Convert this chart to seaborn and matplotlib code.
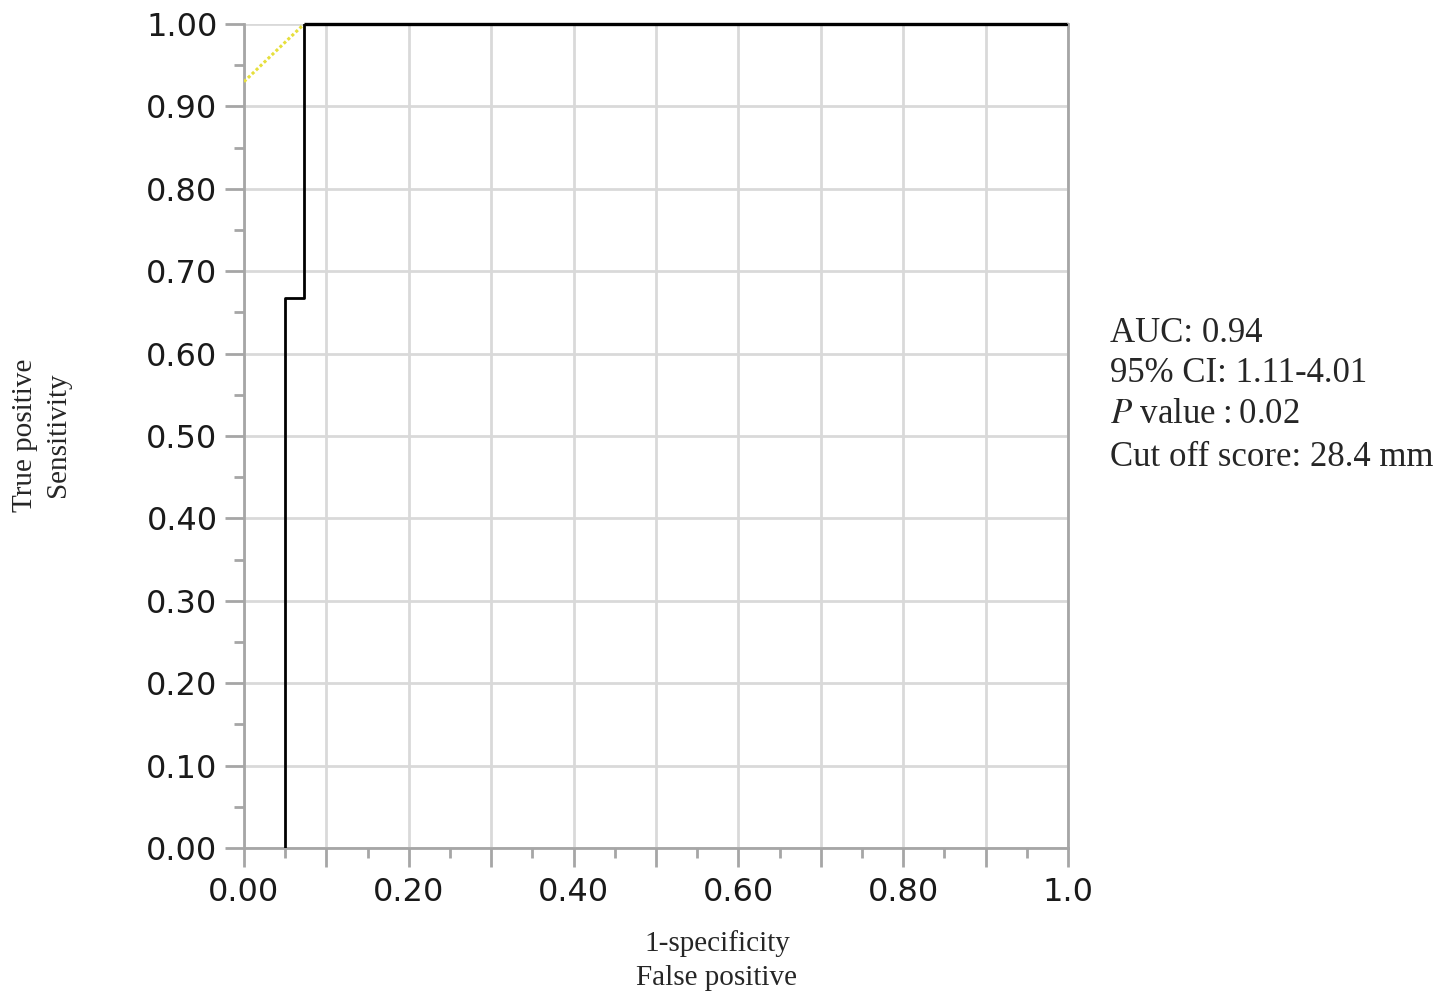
import numpy as np
import pandas as pd
import matplotlib
matplotlib.use("Agg")
import matplotlib.pyplot as plt
import seaborn as sns
from matplotlib.ticker import MultipleLocator, FixedLocator

# Data
fpr = [0.05, 0.05, 0.073, 0.073, 1.0]
tpr = [0.0, 0.667, 0.667, 1.0, 1.0]
ref_x = [0.0, 0.073]
ref_y = [0.930, 1.0]
x_ticks = [0.0, 0.2, 0.4, 0.6, 0.8, 1.0]
x_tick_labels = ["0.00", "0.20", "0.40", "0.60", "0.80", "1.0"]
y_ticks = [0.0, 0.1, 0.2, 0.3, 0.4, 0.5, 0.6, 0.7, 0.8, 0.9, 1.0]
y_tick_labels = ["0.00", "0.10", "0.20", "0.30", "0.40", "0.50", "0.60", "0.70", "0.80", "0.90", "1.00"]
stats_lines = ["AUC: 0.94", "95% CI: 1.11-4.01", "$\\mathit{P}$ value\u2009:\u20090.02", "Cut off score: 28.4 mm"]

sns.set_style("white")
plt.rcParams['font.family'] = ['DejaVu Sans']

fig = plt.figure(figsize=(14.51, 9.93), dpi=100)
ax = fig.add_axes([244/1451, 1-848/993, (1068-244)/1451, (848-24)/993])

roc = pd.DataFrame({"fpr": fpr, "tpr": tpr})
ref = pd.DataFrame({"x": ref_x, "y": ref_y})
sns.lineplot(data=ref, x="x", y="y", ax=ax, sort=False, estimator=None,
             color="#e6df3c", lw=2.2, linestyle=(0, (1, 0.8)), zorder=3)
sns.lineplot(data=roc, x="fpr", y="tpr", ax=ax, sort=False, estimator=None,
             color="black", lw=2.0, zorder=4)
ax.plot([0.073, 1], [1, 1], color="black", lw=2.4, zorder=2, clip_on=False, solid_capstyle="butt")

ax.set_xlim(0, 1)
ax.set_ylim(0, 1)

gray = "#a6a6a6"
for s in ["left", "bottom", "right"]:
    ax.spines[s].set_color(gray)
    ax.spines[s].set_linewidth(2)
    ax.spines[s].set_visible(True)
ax.spines["top"].set_visible(False)

ax.xaxis.set_major_locator(MultipleLocator(0.1))
ax.xaxis.set_minor_locator(FixedLocator([0.05 + 0.1*i for i in range(10)]))
ax.yaxis.set_major_locator(MultipleLocator(0.1))
ax.yaxis.set_minor_locator(FixedLocator([0.05 + 0.1*i for i in range(10)]))

major_x = np.round(np.arange(0, 1.01, 0.1), 2)
xlabels = []
for v in major_x:
    lab = ""
    for t, l in zip(x_ticks, x_tick_labels):
        if abs(t - v) < 1e-6:
            lab = l
    xlabels.append(lab)
ax.set_xticks(major_x)
ax.set_xticklabels(xlabels)
ax.set_yticks(y_ticks)
ax.set_yticklabels(y_tick_labels)

ax.tick_params(axis="both", which="major", length=14, width=2, color=gray,
               labelsize=23, labelcolor="#1a1a1a", direction="out")
ax.tick_params(axis="x", which="major", pad=7)
ax.tick_params(axis="y", which="major", pad=5)
ax.tick_params(axis="both", which="minor", length=7, width=2, color=gray, direction="out")
ax.tick_params(bottom=True, left=True, which="both")

ax.grid(True, which="major", color="#d9d9d9", lw=2)
ax.set_axisbelow(True)

ax.set_xlabel("")
ax.set_ylabel("")

serif = "Liberation Serif"
fig.text(717/1451, 1-944/993, "1-specificity", ha="center", va="center", fontsize=21, family=serif)
fig.text(717/1451, 1-978/993, "False positive", ha="center", va="center", fontsize=21, family=serif)
fig.text(25/1451, 1-435/993, "True positive", ha="center", va="center", rotation=90, fontsize=21, family=serif)
fig.text(58/1451, 1-435/993, "Sensitivity", ha="center", va="center", rotation=90, fontsize=21, family=serif)

ys = [333, 373, 414, 457]
for line, y in zip(stats_lines, ys):
    fig.text(1110/1451, 1-y/993, line, ha="left", va="center", fontsize=25,
             family=serif, math_fontfamily="stix")

fig.savefig("out.png", dpi=100)
